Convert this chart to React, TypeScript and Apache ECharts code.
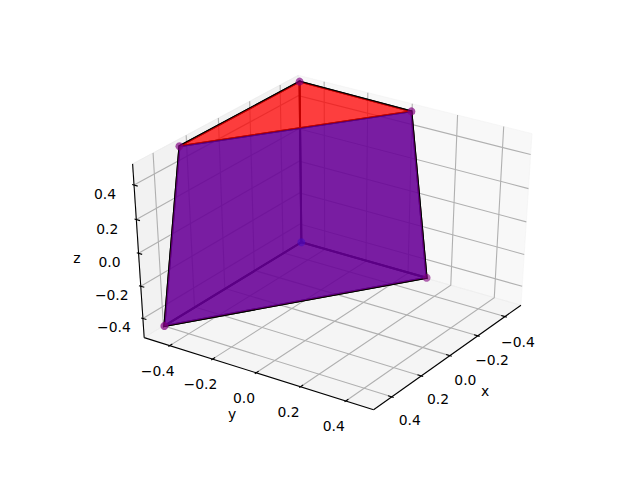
import React, { useEffect, useRef } from "react";
import * as echarts from "echarts";

// Axis limits and ticks
const limits = [-0.5, 0.5];
const ticks = [-0.4, -0.2, 0, 0.2, 0.4];
const tickLabels = ["\u22120.4", "\u22120.2", "0.0", "0.2", "0.4"];
const axisTitles = ["x", "y", "z"];

// Polyhedron vertices [x, y, z]
const vertices = [
  [-0.5, -0.5, 0.5],
  [-0.5, 0.01, 0.49],
  [0.27, -0.5, 0.5],
  [-0.5, -0.5, -0.5],
  [-0.5, 0.1, -0.5],
  [0.42, -0.5, -0.5],
];
const redFaces = [
  [0, 1, 2],
  [2, 1, 4, 5],
];
const blueFaces = [[2, 1, 4, 5]];
const edgeFaces = [
  [0, 1, 2],
  [0, 3, 5, 2],
  [0, 3, 4, 1],
  [3, 4, 5],
  [2, 1, 4, 5],
];
const vertexColors = [
  "rgba(128,0,128,0.85)",
  "rgba(128,0,128,0.85)",
  "rgba(128,0,128,0.85)",
  "rgba(70,10,190,0.7)",
  "rgba(128,0,128,0.75)",
  "rgba(128,0,128,0.9)",
];

// View
const ELEV = 34;
const AZIM = 34;
const DIST = 10;
const VIEW_X = [-0.95 / DIST, 0.9 / DIST];
const VIEW_Y = [-0.95 / DIST, 0.9 / DIST];
const AX_RECT = { left: 80, right: 576, top: 57.6, bottom: 427.2 };

const e = (ELEV * Math.PI) / 180;
const a = (AZIM * Math.PI) / 180;
const U = [-Math.sin(a), Math.cos(a), 0];
const V = [-Math.sin(e) * Math.cos(a), -Math.sin(e) * Math.sin(a), Math.cos(e)];
const W = [Math.cos(e) * Math.cos(a), Math.cos(e) * Math.sin(a), Math.sin(e)];
const dot = (p: number[], q: number[]) => p[0] * q[0] + p[1] * q[1] + p[2] * q[2];

// matplotlib's mplot3d perspective projection, from data to figure pixels
function project(p: number[]): number[] {
  const span = limits[1] - limits[0];
  const w = p.map((c) => (c - limits[0]) / span - 0.5);
  const d = DIST - dot(w, W);
  const xp = dot(w, U) / d;
  const yp = dot(w, V) / d;
  const X = AX_RECT.left + ((xp - VIEW_X[0]) / (VIEW_X[1] - VIEW_X[0])) * (AX_RECT.right - AX_RECT.left);
  const Y = AX_RECT.bottom - ((yp - VIEW_Y[0]) / (VIEW_Y[1] - VIEW_Y[0])) * (AX_RECT.bottom - AX_RECT.top);
  return [X, Y];
}

const pad = (limits[1] - limits[0]) / 48;
const LO = limits[0] - pad;
const HI = limits[1] + pad;

const panes = [
  { pts: [[LO, LO, LO], [LO, HI, LO], [LO, HI, HI], [LO, LO, HI]], color: "rgba(242,242,242,0.5)" },
  { pts: [[LO, LO, LO], [HI, LO, LO], [HI, LO, HI], [LO, LO, HI]], color: "rgba(230,230,230,0.5)" },
  { pts: [[LO, LO, LO], [HI, LO, LO], [HI, HI, LO], [LO, HI, LO]], color: "rgba(236,236,236,0.5)" },
];

const gridLines: number[][][] = [];
ticks.forEach((t) => {
  gridLines.push([[t, HI, LO], [t, LO, LO], [t, LO, HI]]);
  gridLines.push([[HI, t, LO], [LO, t, LO], [LO, t, HI]]);
  gridLines.push([[HI, LO, t], [LO, LO, t], [LO, HI, t]]);
});

const axisLines = [
  [[LO, HI, LO], [HI, HI, LO]],
  [[HI, LO, LO], [HI, HI, LO]],
  [[HI, LO, LO], [HI, LO, HI]],
];

const tickDelta = (limits[1] - limits[0]) / 12;
const tickMarks: number[][][] = [];
ticks.forEach((t) => {
  tickMarks.push([[t, HI - 0.2 * tickDelta, LO], [t, HI + 0.1 * tickDelta, LO]]);
  tickMarks.push([[HI - 0.2 * tickDelta, t, LO], [HI + 0.1 * tickDelta, t, LO]]);
  tickMarks.push([[HI, LO + 0.2 * tickDelta, t], [HI, LO - 0.1 * tickDelta, t]]);
});

const labelItems: { text: string; pos: number[] }[] = [];
ticks.forEach((t, i) => {
  const px = project([t, HI, LO]);
  const py = project([HI, t, LO]);
  const pz = project([HI, LO, t]);
  labelItems.push({ text: tickLabels[i], pos: [px[0] + 15.5 + 6.25 * t, px[1] + 24 - 2.5 * t] });
  labelItems.push({ text: tickLabels[i], pos: [py[0] - 12, py[1] + 25] });
  labelItems.push({ text: tickLabels[i], pos: [pz[0] - 29, pz[1] + 9] });
});
const titleItems = [
  { text: axisTitles[0], pos: [485, 391] },
  { text: axisTitles[1], pos: [232, 414] },
  { text: axisTitles[2], pos: [77, 258] },
];

const FONT = '13.9px "DejaVu Sans"';

function polyLayer(name: string, polys: number[][][], style: any, closed: boolean, z: number) {
  return {
    type: "custom",
    name,
    coordinateSystem: "cartesian2d",
    silent: true,
    clip: false,
    z,
    data: polys.map((_, i) => [i]),
    renderItem: (params: any, api: any) => {
      const pts = polys[params.dataIndex].map((p) => api.coord(project(p)));
      const s = typeof style === "function" ? style(params.dataIndex) : style;
      return { type: closed ? "polygon" : "polyline", shape: { points: pts }, style: s };
    },
  };
}

function textLayer(name: string, items: { text: string; pos: number[] }[], z: number) {
  return {
    type: "custom",
    name,
    coordinateSystem: "cartesian2d",
    silent: true,
    clip: false,
    z,
    data: items.map((_, i) => [i]),
    renderItem: (params: any, api: any) => {
      const it = items[params.dataIndex];
      const c = api.coord(it.pos);
      return {
        type: "text",
        style: { x: c[0], y: c[1], text: it.text, fill: "#000", font: FONT, align: "center", verticalAlign: "middle" },
      };
    },
  };
}

const facePts = (faces: number[][]) => faces.map((f) => f.map((i) => vertices[i]));

export default function App() {
  const ref = useRef<HTMLDivElement>(null);
  useEffect(() => {
    const chart = echarts.init(ref.current!, undefined, { renderer: "svg" });
    chart.setOption({
      animation: false,
      backgroundColor: "#fff",
      grid: { left: 0, right: 0, top: 0, bottom: 0 },
      xAxis: { type: "value", min: 0, max: 640, show: false },
      yAxis: { type: "value", min: 0, max: 480, inverse: true, show: false },
      series: [
        polyLayer("panes", panes.map((p) => p.pts), (i: number) => ({ fill: panes[i].color, stroke: panes[i].color, lineWidth: 1 }), true, 1),
        polyLayer("grid", gridLines, { fill: "none", stroke: "#b0b0b0", lineWidth: 1.1 }, false, 2),
        polyLayer("axes", axisLines, { fill: "none", stroke: "#000", lineWidth: 1.1 }, false, 3),
        polyLayer("ticks", tickMarks, { fill: "none", stroke: "#000", lineWidth: 1.1 }, false, 3),
        textLayer("tickLabels", labelItems, 3),
        textLayer("axisTitles", titleItems, 3),
        polyLayer("edges", facePts(edgeFaces), { fill: "none", stroke: "#000", lineWidth: 2 }, true, 4),
        polyLayer("red", facePts(redFaces), { fill: "rgba(255,0,0,0.75)" }, true, 5),
        polyLayer("blue", facePts(blueFaces), { fill: "rgba(0,0,255,0.52)" }, true, 6),
        {
          type: "scatter",
          name: "vertices",
          silent: true,
          z: 7,
          symbol: "circle",
          symbolSize: 8,
          data: vertices.map((v, i) => ({ value: project(v), itemStyle: { color: vertexColors[i] } })),
        },
      ],
    });
    return () => chart.dispose();
  }, []);
  return <div ref={ref} style={{ position: "fixed", left: 0, top: 0, width: 640, height: 480 }} />;
}
